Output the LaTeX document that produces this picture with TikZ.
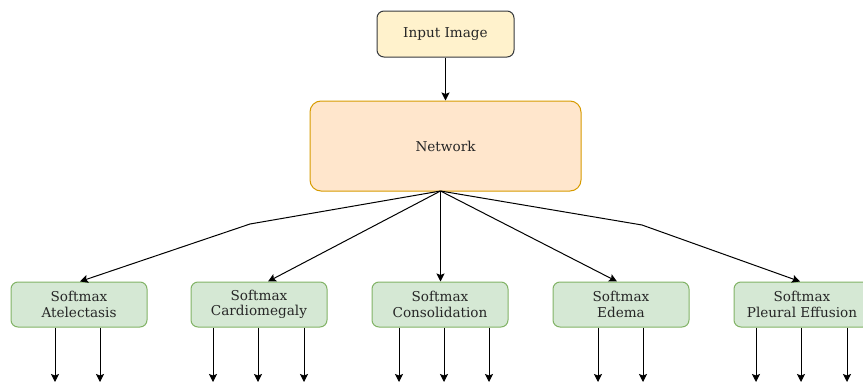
\documentclass[tikz,border=0pt]{standalone}
\usepackage{fontspec}
\setmainfont{DejaVu Serif}
\usetikzlibrary{arrows.meta}

\definecolor{inFill}{HTML}{FFF2CC}
\definecolor{inLine}{HTML}{36393D}
\definecolor{netFill}{HTML}{FFE6CC}
\definecolor{netLine}{HTML}{D79B00}
\definecolor{smFill}{HTML}{D5E8D4}
\definecolor{smLine}{HTML}{82B366}
\definecolor{txt}{HTML}{262626}

\tikzset{
  box/.style={rectangle, rounded corners=7pt, line width=1pt, align=center,
    font=\fontsize{13.6}{15.5}\selectfont, text=txt, inner sep=0pt},
  inbox/.style={box, draw=inLine, fill=inFill, minimum width=137pt, minimum height=46pt},
  netbox/.style={box, draw=netLine, fill=netFill, rounded corners=11pt,
    minimum width=271pt, minimum height=90pt},
  smbox/.style={box, draw=smLine, fill=smFill, minimum width=136pt, minimum height=45pt},
  link/.style={draw=black, line width=1pt, -{Stealth[length=8pt,width=8pt,inset=1.5pt]}}
}

\begin{document}
\begin{tikzpicture}[x=1pt,y=-1pt]
\useasboundingbox (0,0) rectangle (863,383);

% input and network
\node[inbox] (in) at (445.5,34) {Input Image};
\node[netbox] (net) at (445.5,146) {Network};
\draw[link] (in.south) -- (net.north);

% one softmax head per finding
\node[smbox] (s1) at (79,304.5)  {Softmax\\Atelectasis};
\node[smbox] (s2) at (259,304.5) {Softmax\\Cardiomegaly};
\node[smbox] (s3) at (440,304.5) {Softmax\\Consolidation};
\node[smbox] (s4) at (621,304.5) {Softmax\\Edema};
\node[smbox] (s5) at (802,304.5) {Softmax\\Pleural Effusion};

% fan-out from the network
\coordinate (j) at (440.5,191);
\coordinate (bl) at (250,224);
\coordinate (br) at (642,225);
\draw[link] (j) -- (bl) -- (s1.north -| 80,0);
\draw[link] (j) -- (s2.north -| 268,0);
\draw[link] (j) -- (s3.north -| j);
\draw[link] (j) -- (s4.north -| 617,0);
\draw[link] (j) -- (br) -- (s5.north -| 800,0);

% class outputs
\foreach \b/\xs in {s1/{55,100}, s2/{213,258,304}, s3/{399,444,489},
                    s4/{598,643}, s5/{756,801,847}} {
  \foreach \x in \xs {
    \coordinate (o) at (\x,382);
    \draw[link] (\b.south -| o) -- (o);
  }
}
\end{tikzpicture}
\end{document}
